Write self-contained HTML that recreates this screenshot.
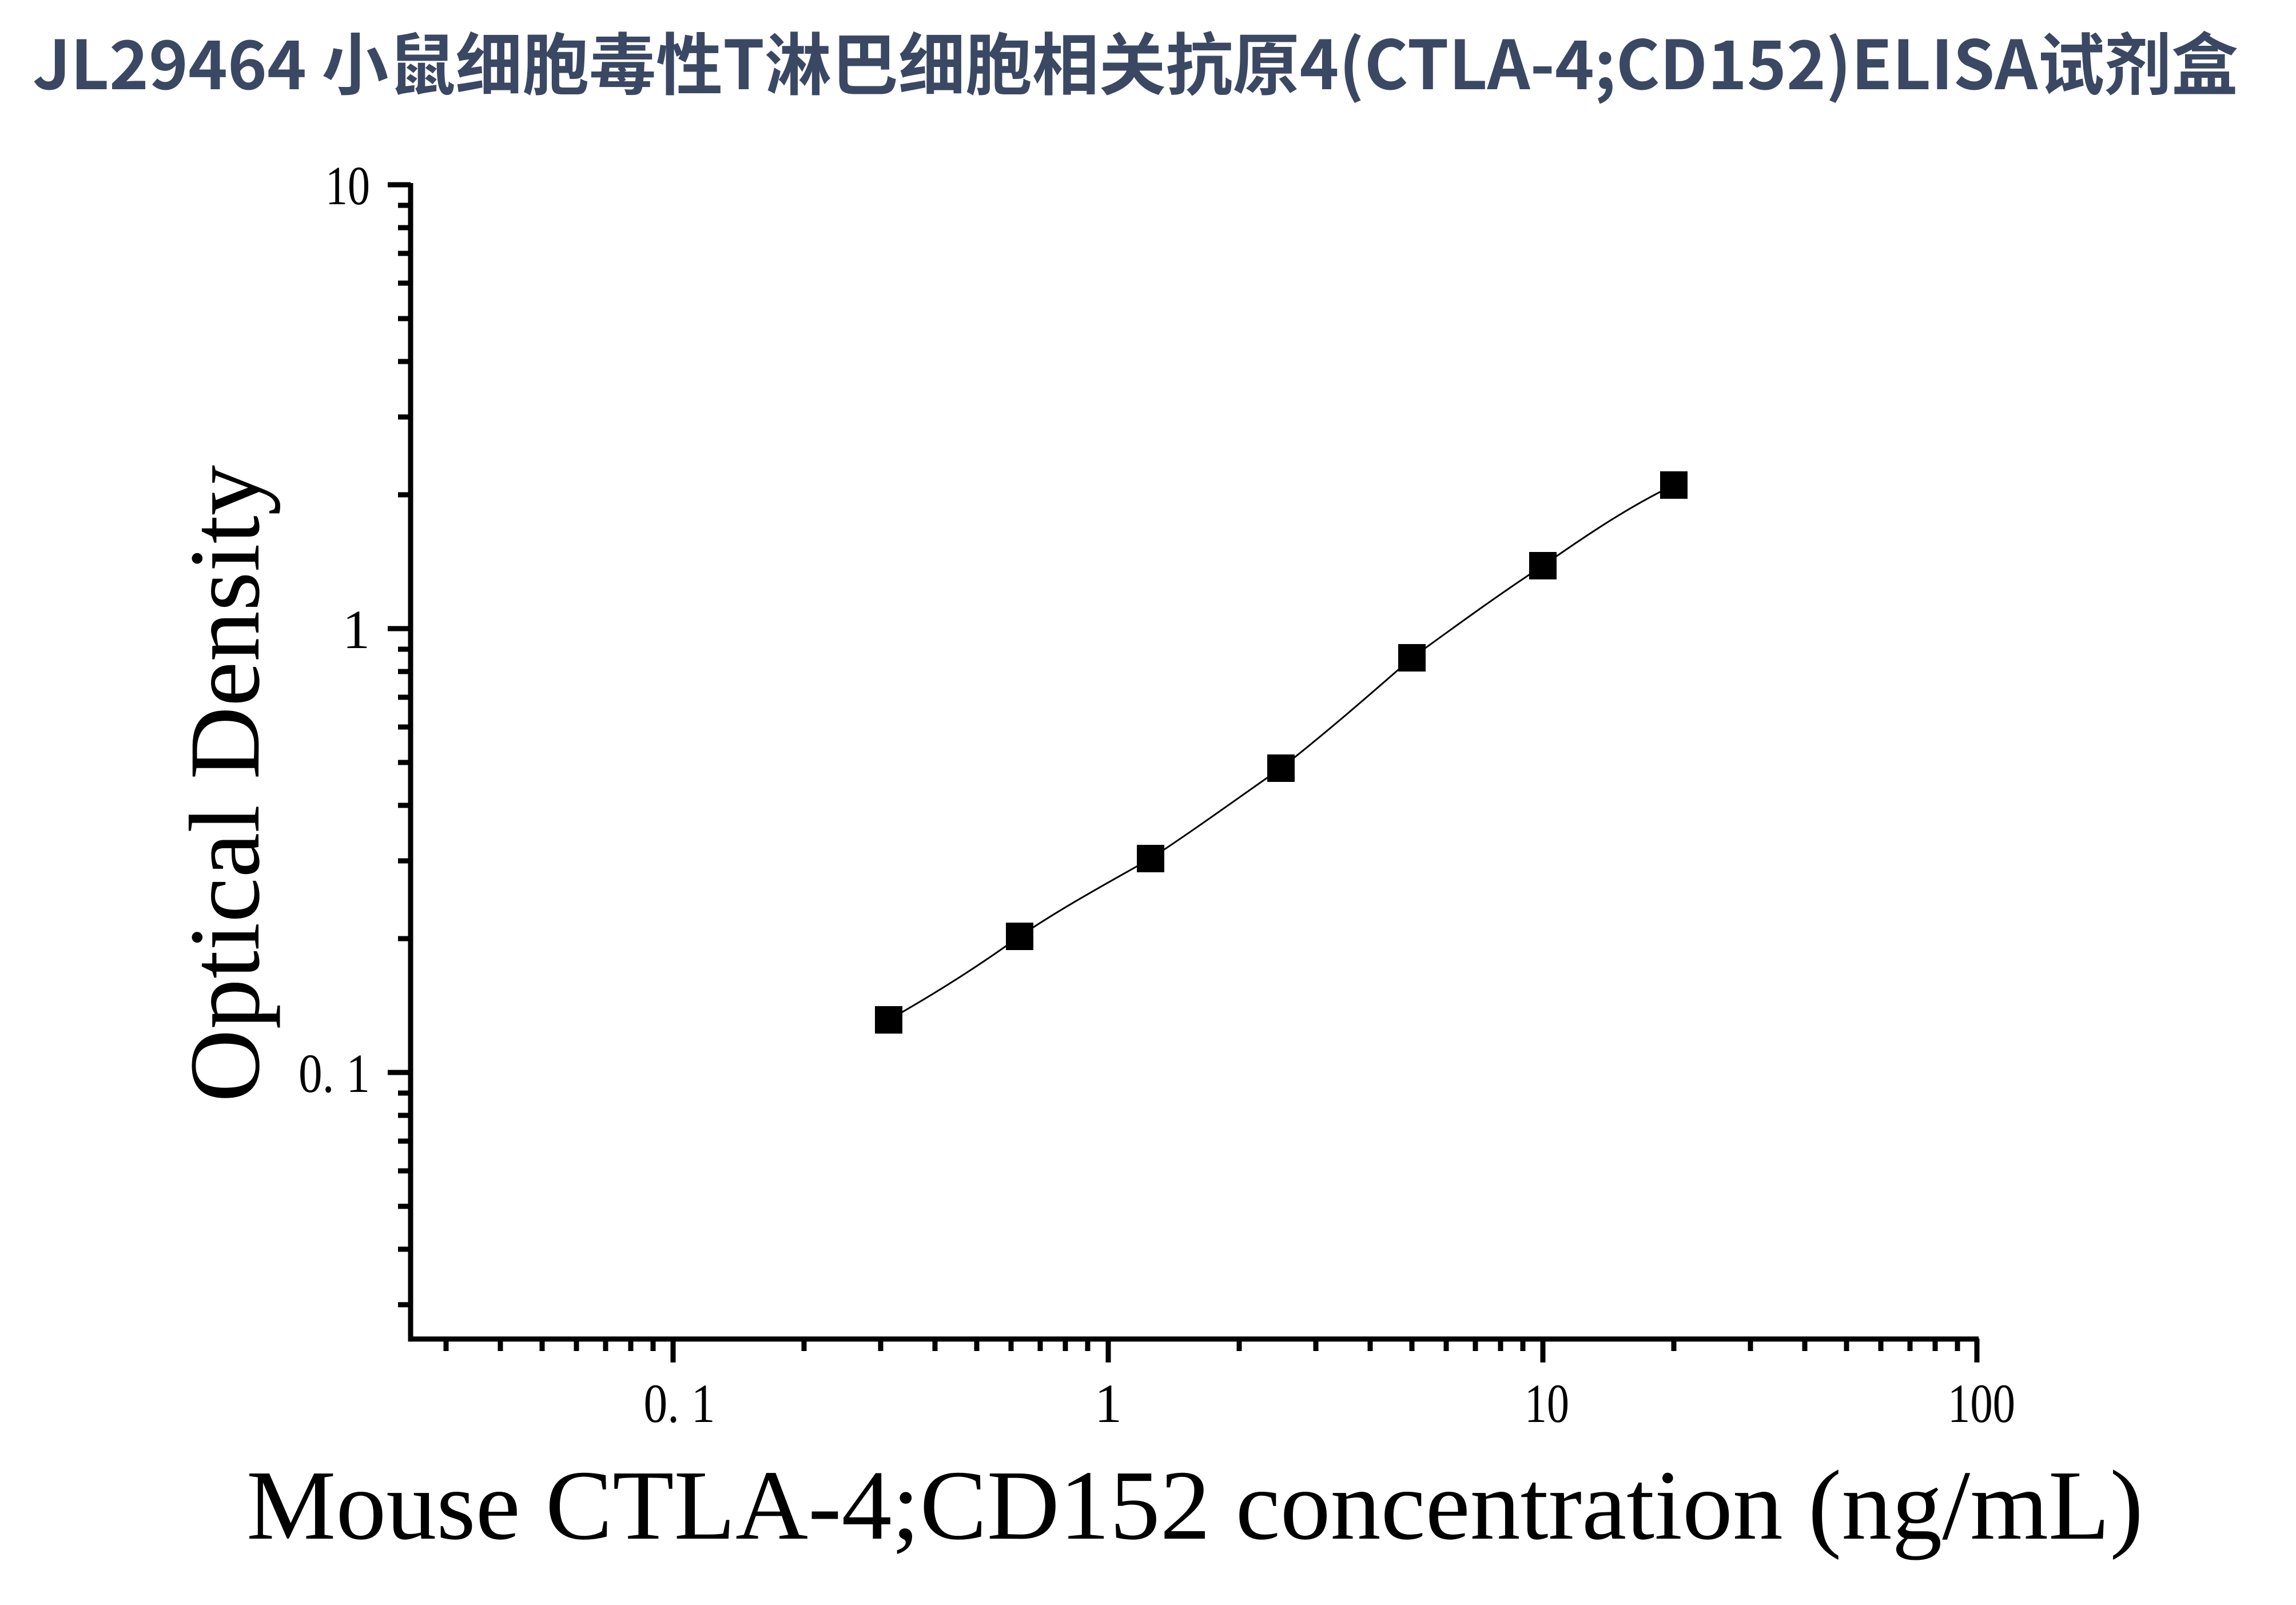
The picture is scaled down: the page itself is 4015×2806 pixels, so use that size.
<!DOCTYPE html>
<html><head><meta charset="utf-8"><style>
html,body{margin:0;padding:0;background:#fff;}
svg{display:block;}
</style></head><body>
<svg width="4015" height="2806" viewBox="0 0 4015 2806" xmlns="http://www.w3.org/2000/svg">
<rect width="4015" height="2806" fill="#fff"/>
<text x="57" y="156" font-family="'Noto Sans CJK SC','Liberation Sans',sans-serif" font-weight="bold" font-size="118" fill="#3b4863" textLength="3857" lengthAdjust="spacingAndGlyphs">JL29464 小鼠细胞毒性T淋巴细胞相关抗原4(CTLA-4;CD152)ELISA试剂盒</text>
<g stroke="#000" stroke-width="9" fill="none">
<path d="M718 320 V2341 H3460"/>
<path d="M678 323H718 M678 1099H718 M678 1875H718"/>
<path d="M696 359H718M696 398H718M696 443H718M696 495H718M696 557H718M696 632H718M696 729H718M696 865H718
M696 1135H718M696 1174H718M696 1219H718M696 1271H718M696 1333H718M696 1408H718M696 1505H718M696 1641H718
M696 1911H718M696 1950H718M696 1995H718M696 2047H718M696 2109H718M696 2184H718M696 2281H718"/>
<path d="M1177 2340V2382 M1938 2340V2382 M2698 2340V2382 M3457 2340V2382"/>
<path d="M780 2340V2362M875 2340V2362M948 2340V2362M1008 2340V2362M1059 2340V2362M1103 2340V2362M1142 2340V2362
M1406 2340V2362M1540 2340V2362M1635 2340V2362M1708 2340V2362M1768 2340V2362M1819 2340V2362M1863 2340V2362M1902 2340V2362
M2167 2340V2362M2301 2340V2362M2396 2340V2362M2469 2340V2362M2529 2340V2362M2580 2340V2362M2624 2340V2362M2663 2340V2362
M2927 2340V2362M3061 2340V2362M3156 2340V2362M3229 2340V2362M3289 2340V2362M3340 2340V2362M3384 2340V2362M3423 2340V2362"/>
</g>
<g font-family="'Liberation Serif',serif" font-size="96" fill="#000">
<text x="647" y="357" text-anchor="end" textLength="78" lengthAdjust="spacingAndGlyphs">10</text>
<text x="647" y="1133" text-anchor="end">1</text>
<text x="647" y="1909" text-anchor="end" textLength="125" lengthAdjust="spacingAndGlyphs">0. 1</text>
<text x="1188" y="2486" text-anchor="middle" textLength="125" lengthAdjust="spacingAndGlyphs">0. 1</text>
<text x="1938" y="2486" text-anchor="middle">1</text>
<text x="2705" y="2486" text-anchor="middle" textLength="78" lengthAdjust="spacingAndGlyphs">10</text>
<text x="3465" y="2486" text-anchor="middle" textLength="118" lengthAdjust="spacingAndGlyphs">100</text>
</g>
<text x="431" y="2690" font-family="'Liberation Serif',serif" font-size="174" fill="#000" textLength="3317" lengthAdjust="spacingAndGlyphs">Mouse CTLA-4;CD152 concentration (ng/mL)</text>
<text transform="translate(452,1370) rotate(-90)" text-anchor="middle" font-family="'Liberation Serif',serif" font-size="176" fill="#000" textLength="1114" lengthAdjust="spacingAndGlyphs">Optical Density</text>
<path d="M1554 1783 C1630 1740 1710 1690 1783 1637 C1860 1585 1935 1545 2012 1501 C2090 1450 2165 1395 2240 1343 C2320 1280 2395 1215 2469 1150 C2545 1095 2620 1040 2698 989 C2775 935 2850 885 2927 848" stroke="#000" stroke-width="3" fill="none"/>
<g fill="#000">
<rect x="1530" y="1759" width="48" height="48"/>
<rect x="1759" y="1613" width="48" height="48"/>
<rect x="1988" y="1477" width="48" height="48"/>
<rect x="2216" y="1319" width="48" height="48"/>
<rect x="2445" y="1126" width="48" height="48"/>
<rect x="2674" y="965" width="48" height="48"/>
<rect x="2903" y="824" width="48" height="48"/>
</g>
</svg>
</body></html>
